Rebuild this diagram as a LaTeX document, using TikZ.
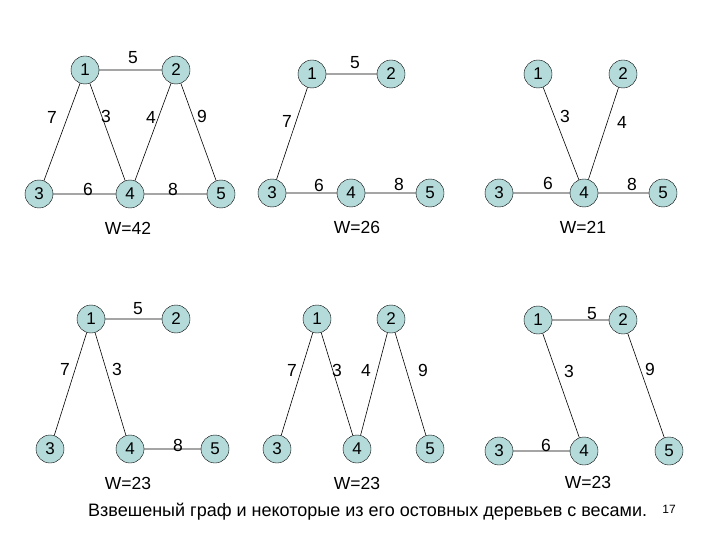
\documentclass[tikz,border=0pt]{standalone}
\usepackage{fontspec}
\setmainfont{Liberation Sans}
\definecolor{vfill}{RGB}{180,218,218}
\tikzset{
	vert/.style={circle, draw=black, fill=vfill, minimum size=28pt, inner sep=0pt, font=\fontsize{17}{17}\selectfont},
	wlab/.style={font=\fontsize{17.5}{17.5}\selectfont, inner sep=0pt},
	edge/.style={draw=black, line width=0.6pt}
}
\begin{document}
\begin{tikzpicture}[x=1pt, y=-1pt]
	\useasboundingbox (0,0) rectangle (720,540);
	%graph W=42
	\node[vert] (a1) at (85,70) {1};
	\node[vert] (a2) at (176,70) {2};
	\node[vert] (a3) at (39,194) {3};
	\node[vert] (a4) at (130,194) {4};
	\node[vert] (a5) at (221,194) {5};
	\draw[edge] (a1) -- (a2) (a1) -- (a3) (a1) -- (a4) (a2) -- (a4) (a2) -- (a5) (a3) -- (a4) (a4) -- (a5);
	\node[wlab] (la12) at (133,58) {5};
	\node[wlab] (la13) at (52,117) {7};
	\node[wlab] (la14) at (106,116) {3};
	\node[wlab] (la24) at (151,117) {4};
	\node[wlab] (la25) at (202,116) {9};
	\node[wlab] (la34) at (88,189) {6};
	\node[wlab] (la45) at (173,189) {8};
	\node[wlab] (wa) at (128,228) {W=42};
	%tree W=26
	\node[vert] (b1) at (312,74) {1};
	\node[vert] (b2) at (391,74) {2};
	\node[vert] (b3) at (272,193) {3};
	\node[vert] (b4) at (351,193) {4};
	\node[vert] (b5) at (430,193) {5};
	\draw[edge] (b1) -- (b2) (b1) -- (b3) (b3) -- (b4) (b4) -- (b5);
	\node[wlab] (lb12) at (355,63) {5};
	\node[wlab] (lb13) at (287,121) {7};
	\node[wlab] (lb34) at (319,185) {6};
	\node[wlab] (lb45) at (399,184) {8};
	\node[wlab] (wb) at (357,227) {W=26};
	%tree W=21
	\node[vert] (c1) at (538,74) {1};
	\node[vert] (c2) at (623,74) {2};
	\node[vert] (c3) at (499,193) {3};
	\node[vert] (c4) at (584,193) {4};
	\node[vert] (c5) at (663,193) {5};
	\draw[edge] (c1) -- (c4) (c2) -- (c4) (c3) -- (c4) (c4) -- (c5);
	\node[wlab] (lc14) at (565,116) {3};
	\node[wlab] (lc24) at (622,122) {4};
	\node[wlab] (lc34) at (548,183) {6};
	\node[wlab] (lc45) at (632,184) {8};
	\node[wlab] (wc) at (583,227) {W=21};
	%tree W=23 (left)
	\node[vert] (d1) at (91,319) {1};
	\node[vert] (d2) at (176,319) {2};
	\node[vert] (d3) at (50,449) {3};
	\node[vert] (d4) at (130,449) {4};
	\node[vert] (d5) at (215,449) {5};
	\draw[edge] (d1) -- (d2) (d1) -- (d3) (d1) -- (d4) (d4) -- (d5);
	\node[wlab] (ld12) at (138,309) {5};
	\node[wlab] (ld13) at (65,369) {7};
	\node[wlab] (ld14) at (117,369) {3};
	\node[wlab] (ld45) at (178,445) {8};
	\node[wlab] (wd) at (128,483) {W=23};
	%tree W=23 (middle)
	\node[vert] (e1) at (317,319) {1};
	\node[vert] (e2) at (391,319) {2};
	\node[vert] (e3) at (277,449) {3};
	\node[vert] (e4) at (357,449) {4};
	\node[vert] (e5) at (430,449) {5};
	\draw[edge] (e1) -- (e3) (e1) -- (e4) (e2) -- (e4) (e2) -- (e5);
	\node[wlab] (le13) at (292,370) {7};
	\node[wlab] (le14) at (337,370) {3};
	\node[wlab] (le24) at (366,370) {4};
	\node[wlab] (le25) at (423,370) {9};
	\node[wlab] (we) at (357,483) {W=23};
	%tree W=23 (right)
	\node[vert] (f1) at (538,320) {1};
	\node[vert] (f2) at (623,320) {2};
	\node[vert] (f3) at (499,451) {3};
	\node[vert] (f4) at (584,451) {4};
	\node[vert] (f5) at (669,451) {5};
	\draw[edge] (f1) -- (f2) (f1) -- (f4) (f2) -- (f5) (f3) -- (f4);
	\node[wlab] (lf12) at (592,314) {5};
	\node[wlab] (lf14) at (569,371) {3};
	\node[wlab] (lf25) at (650,369) {9};
	\node[wlab] (lf34) at (546,445) {6};
	\node[wlab] (wf) at (588,482) {W=23};
	%caption
	\node[wlab, anchor=west, font=\fontsize{18}{18}\selectfont] (cap) at (88,512) {Взвешеный граф и некоторые из его остовных деревьев с весами.};
	\node[inner sep=0pt, font=\fontsize{12}{12}\selectfont] (pg) at (669,509) {17};
\end{tikzpicture}
\end{document}
